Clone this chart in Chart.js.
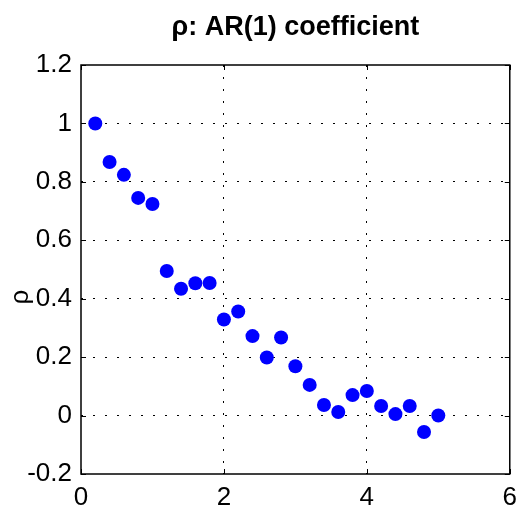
<!DOCTYPE html>
<html>
<head>
<meta charset="utf-8">
<script src="https://cdn.jsdelivr.net/npm/chart.js@4/dist/chart.umd.min.js"></script>
<style>
  html, body { margin: 0; padding: 0; background: #ffffff; }
  #wrap { width: 525px; height: 511px; }
</style>
</head>
<body>
<div id="wrap"><canvas id="c" width="525" height="511"></canvas></div>
<script>
// ---- data ----
const lagValues = [0.2, 0.4, 0.6, 0.8, 1.0, 1.2, 1.4, 1.6, 1.8, 2.0, 2.2, 2.4, 2.6, 2.8, 3.0, 3.2, 3.4, 3.6, 3.8, 4.0, 4.2, 4.4, 4.6, 4.8, 5.0];
const rhoValues = [1.0, 0.868, 0.824, 0.745, 0.724, 0.495, 0.434, 0.453, 0.454, 0.329, 0.356, 0.272, 0.199, 0.267, 0.169, 0.105, 0.036, 0.012, 0.070, 0.084, 0.033, 0.005, 0.033, -0.056, 0.0];
const xTicks = [0, 2, 4, 6];
const yTicks = [-0.2, 0, 0.2, 0.4, 0.6, 0.8, 1.0, 1.2];
const titleText = 'ρ: AR(1) coefficient';
const yLabelText = 'ρ';

const FONT = "'Liberation Sans', Arial, Helvetica, sans-serif";

const points = lagValues.map((x, i) => ({ x: x, y: rhoValues[i] }));

function edgeTransparent(min, max) {
  return (ctx) => {
    const v = ctx.tick ? ctx.tick.value : null;
    if (v === null) return 'rgba(0,0,0,0)';
    if (Math.abs(v - min) < 1e-9 || Math.abs(v - max) < 1e-9) return 'rgba(0,0,0,0)';
    return '#000000';
  };
}

const framePlugin = {
  id: 'frame',
  afterLayout(chart) {
    // centre the title over the plot area (as in the reference)
    if (chart.titleBlock) {
      chart.titleBlock.left = chart.chartArea.left;
      chart.titleBlock.right = chart.chartArea.right;
    }
  },
  afterDraw(chart) {
    const { ctx, chartArea: a, scales } = chart;
    ctx.save();
    ctx.strokeStyle = '#000000';
    ctx.lineWidth = 1.5;
    ctx.setLineDash([]);
    ctx.strokeRect(a.left, a.top, a.right - a.left, a.bottom - a.top);
    // inward tick marks on all four sides
    const tl = 5;
    ctx.lineWidth = 1;
    ctx.beginPath();
    xTicks.forEach(v => {
      const px = Math.round(scales.x.getPixelForValue(v)) + 0.5;
      ctx.moveTo(px, a.bottom); ctx.lineTo(px, a.bottom - tl);
      ctx.moveTo(px, a.top); ctx.lineTo(px, a.top + tl);
    });
    yTicks.forEach(v => {
      const py = Math.round(scales.y.getPixelForValue(v)) + 0.5;
      ctx.moveTo(a.left, py); ctx.lineTo(a.left + tl, py);
      ctx.moveTo(a.right, py); ctx.lineTo(a.right - tl, py);
    });
    ctx.stroke();
    // y axis label
    ctx.fillStyle = '#000000';
    ctx.font = '26px ' + FONT;
    ctx.textAlign = 'center';
    ctx.textBaseline = 'middle';
    ctx.translate(21, 297);
    ctx.rotate(-Math.PI / 2);
    ctx.fillText(yLabelText, 0, 0);
    ctx.restore();
  }
};

new Chart(document.getElementById('c'), {
  type: 'scatter',
  data: {
    datasets: [{
      label: 'ρ',
      data: points,
      backgroundColor: '#0000ff',
      borderColor: '#0000ff',
      borderWidth: 0,
      pointRadius: 7,
      pointHoverRadius: 7
    }]
  },
  options: {
    responsive: false,
    animation: false,
    layout: { padding: { left: 0, right: 13, top: 0, bottom: 0 } },
    plugins: {
      legend: { display: false },
      tooltip: { enabled: false },
      title: {
        display: true,
        text: titleText,
        color: '#000000',
        font: { family: FONT, size: 27, weight: 'bold', lineHeight: 1.2 },
        padding: { top: 11, bottom: 21.6 }
      }
    },
    scales: {
      x: {
        type: 'linear',
        min: 0,
        max: 6,
        afterBuildTicks: (s) => { s.ticks = xTicks.map(v => ({ value: v })); },
        afterFit: (s) => { s.height = 37; },
        border: { display: false, dash: [2, 10] },
        grid: {
          color: edgeTransparent(0, 6),
          lineWidth: 1,
          drawTicks: false
        },
        ticks: {
          color: '#000000',
          padding: 8,
          font: { family: FONT, size: 26 },
          callback: (v) => String(v)
        }
      },
      y: {
        type: 'linear',
        min: -0.2,
        max: 1.2,
        afterBuildTicks: (s) => { s.ticks = yTicks.map(v => ({ value: v })); },
        afterFit: (s) => { s.width = 81; },
        border: { display: false, dash: [2, 10] },
        grid: {
          color: edgeTransparent(-0.2, 1.2),
          lineWidth: 1,
          drawTicks: false
        },
        ticks: {
          color: '#000000',
          padding: 9,
          font: { family: FONT, size: 26 },
          callback: (v) => String(Math.round(v * 10) / 10)
        }
      }
    }
  },
  plugins: [framePlugin]
});
</script>
</body>
</html>
